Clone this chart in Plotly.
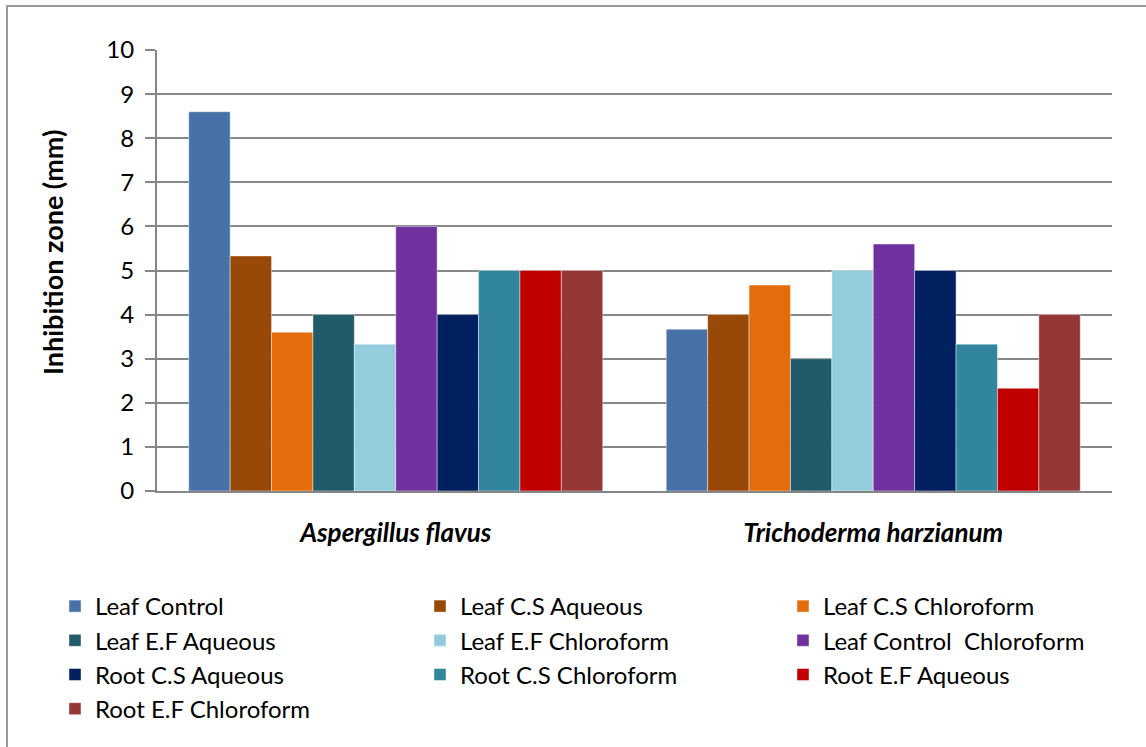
import plotly.graph_objects as go

# Fungal test organisms (x categories)
organisms = ["Aspergillus flavus", "Trichoderma harzianum"]

# Extract series
series_names = [
    "Leaf Control", "Leaf C.S Aqueous", "Leaf C.S Chloroform",
    "Leaf E.F Aqueous", "Leaf E.F Chloroform", "Leaf Control  Chloroform",
    "Root C.S Aqueous", "Root C.S Chloroform", "Root E.F Aqueous",
    "Root E.F Chloroform",
]

# Inhibition zone (mm) per series: [A. flavus, T. harzianum]
leaf_control = [8.6, 3.67]
leaf_cs_aqueous = [5.33, 4.0]
leaf_cs_chloroform = [3.6, 4.67]
leaf_ef_aqueous = [4.0, 3.0]
leaf_ef_chloroform = [3.33, 5.0]
leaf_control_chloroform = [6.0, 5.6]
root_cs_aqueous = [4.0, 5.0]
root_cs_chloroform = [5.0, 3.33]
root_ef_aqueous = [5.0, 2.33]
root_ef_chloroform = [5.0, 4.0]

series_values = [
    leaf_control, leaf_cs_aqueous, leaf_cs_chloroform, leaf_ef_aqueous,
    leaf_ef_chloroform, leaf_control_chloroform, root_cs_aqueous,
    root_cs_chloroform, root_ef_aqueous, root_ef_chloroform,
]

colors = [
    "#4672A8", "#984807", "#E46C0A", "#215A69", "#93CDDD",
    "#7030A0", "#002060", "#31859C", "#C00000", "#953735",
]

y_ticks = list(range(0, 11))

# Legend columns (three vertical legends laid side by side)
legend_of = ["legend", "legend2", "legend3"] * 4

W, H = 1146, 747
PL, PR, PT, PB = 157, 1112, 50, 491  # plot area in pixels
FONT = "Lato, Liberation Sans, Arial"

fig = go.Figure()
for i, (name, vals, col) in enumerate(zip(series_names, series_values, colors)):
    fig.add_trace(go.Bar(
        x=organisms, y=vals, name=name,
        marker=dict(color=col, line=dict(color="rgba(255,255,255,0.55)", width=0.8)),
        legend=legend_of[i],
    ))

legend_font = dict(family=FONT, size=24, color="#000000")


def legend_at(px_left):
    return dict(
        x=px_left / W, y=1 - 584 / H, xref="container", yref="container",
        xanchor="left", yanchor="top", orientation="v",
        font=legend_font, bgcolor="rgba(0,0,0,0)", traceorder="normal",
        itemclick=False, itemdoubleclick=False,
    )


def px_x(p):
    return (p - PL) / (PR - PL)


def px_y(p):
    return (PB - p) / (PB - PT)


fig.update_layout(
    width=W, height=H,
    margin=dict(l=PL, r=W - PR, t=PT, b=H - PB, autoexpand=False),
    paper_bgcolor="white", plot_bgcolor="white",
    barmode="group", bargap=0.133, bargroupgap=0,
    font=dict(family=FONT, color="#000000"),
    legend=legend_at(55),
    legend2=legend_at(420),
    legend3=legend_at(783),
    xaxis=dict(
        type="category", categoryorder="array", categoryarray=organisms,
        showline=True, linecolor="#868686", linewidth=2,
        ticks="", showgrid=False, tickangle=0,
        tickfont=dict(family=FONT, size=26, color="#000000",
                      weight="bold", style="italic"),
        ticklabelstandoff=18,
    ),
    yaxis=dict(
        range=[0, 10], tickvals=y_ticks,
        showline=True, linecolor="#868686", linewidth=2,
        showgrid=True, gridcolor="#878787", gridwidth=1.5,
        ticks="outside", ticklen=10, tickcolor="#868686", tickwidth=1.5,
        tickfont=dict(family=FONT, size=24, color="#000000"),
        ticklabelstandoff=6,
        zeroline=False,
    ),
    annotations=[dict(
        text="<b>Inhibition zone (mm)</b>", textangle=-90,
        x=px_x(52), y=px_y(253), xref="paper", yref="paper",
        xanchor="center", yanchor="middle", showarrow=False,
        font=dict(family=FONT, size=27, color="#000000"),
    )],
    shapes=[dict(
        type="rect", xref="paper", yref="paper",
        x0=px_x(7), x1=px_x(1160), y0=px_y(760), y1=px_y(6),
        line=dict(color="#9a9a9a", width=2), fillcolor="rgba(0,0,0,0)",
        layer="below",
    )],
)

fig.write_html("out.html")
